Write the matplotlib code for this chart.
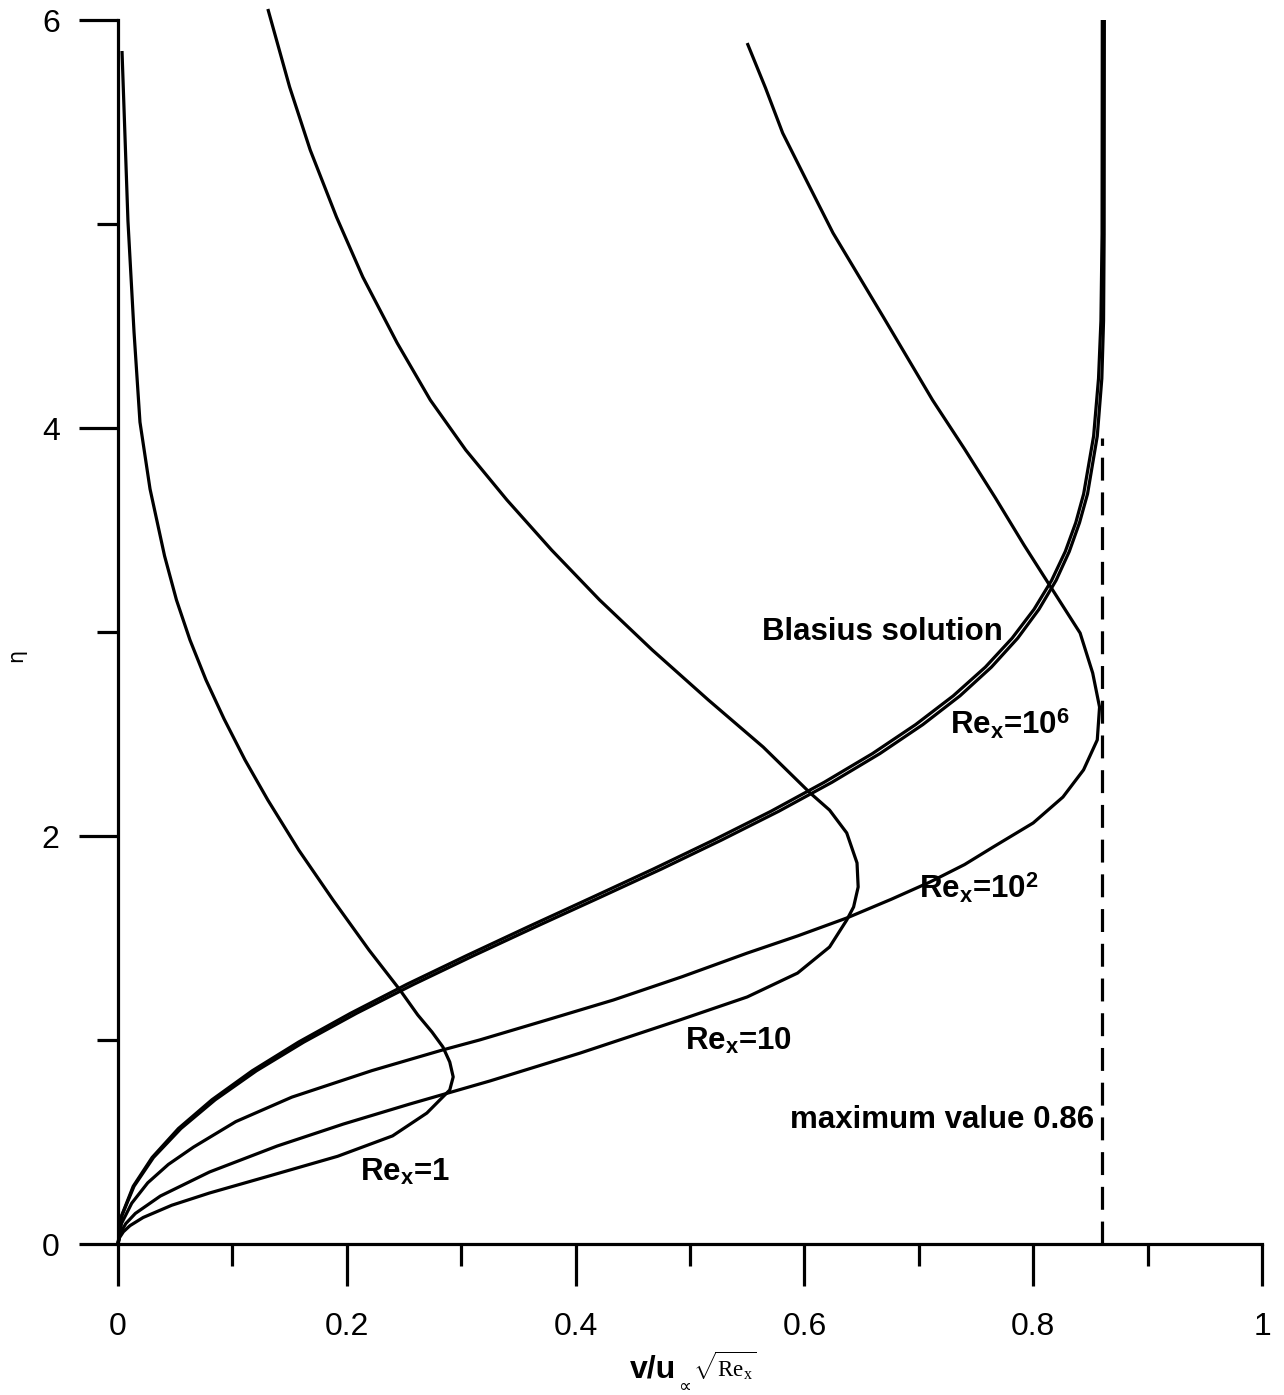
import matplotlib.pyplot as plt

plt.rcParams['font.family'] = ['Liberation Sans', 'DejaVu Sans']
plt.rcParams['mathtext.fontset'] = 'custom'
plt.rcParams['mathtext.rm'] = 'Liberation Serif'
plt.rcParams['mathtext.it'] = 'Liberation Serif:italic'
plt.rcParams['mathtext.bf'] = 'Liberation Sans:bold'
plt.rcParams['mathtext.sf'] = 'Liberation Sans'
plt.rcParams['lines.scale_dashes'] = False

# Blasius solution (eta, v/u*sqrt(Re_x))
blasius_eta = [0, 0.141, 0.283, 0.424, 0.566, 0.707, 0.849, 0.990, 1.131, 1.273, 1.414,
               1.556, 1.697, 1.838, 1.980, 2.121, 2.263, 2.404, 2.546, 2.687, 2.828,
               2.970, 3.111, 3.253, 3.394, 3.536, 3.677, 3.960, 4.243, 4.525, 4.95, 6.0]
blasius_v = [0, 0.0033, 0.0133, 0.0298, 0.0528, 0.0821, 0.1173, 0.1579, 0.2033, 0.2525, 0.3048,
             0.3589, 0.4136, 0.4679, 0.5206, 0.5707, 0.6172, 0.6595, 0.6972, 0.7301, 0.7582,
             0.7816, 0.8007, 0.8161, 0.8280, 0.8372, 0.8441, 0.8528, 0.8571, 0.8592, 0.8602, 0.8604]

# Re_x = 10^6
re6_eta = blasius_eta
re6_v = [0, 0.0035, 0.0140, 0.0310, 0.0550, 0.0850, 0.1210, 0.1625, 0.2085, 0.2585, 0.3110,
         0.3655, 0.4205, 0.4750, 0.5275, 0.5775, 0.6240, 0.6660, 0.7035, 0.7360, 0.7635,
         0.7865, 0.8050, 0.8200, 0.8315, 0.8405, 0.8475, 0.8560, 0.8600, 0.8615, 0.8620, 0.8622]

# Re_x = 10^2
re2_eta = [0, 0.10, 0.20, 0.30, 0.39, 0.475, 0.60, 0.72, 0.85, 0.95, 1.0, 1.10, 1.196, 1.31,
           1.426, 1.51, 1.598, 1.69, 1.775, 1.86, 1.946, 2.064, 2.191, 2.324, 2.471, 2.632,
           2.799, 2.995, 3.206, 3.426, 3.657, 3.897, 4.137, 4.544, 4.75, 4.956, 5.2, 5.446,
           5.667, 5.887]
re2_v = [0, 0.003, 0.012, 0.026, 0.044, 0.066, 0.103, 0.152, 0.222, 0.283, 0.316, 0.376, 0.433, 0.493,
         0.550, 0.594, 0.637, 0.676, 0.710, 0.740, 0.765, 0.800, 0.826, 0.844, 0.856, 0.858,
         0.852, 0.841, 0.817, 0.792, 0.767, 0.740, 0.712, 0.669, 0.647, 0.625, 0.603, 0.581,
         0.566, 0.550]

# Re_x = 10
re10_eta = [0, 0.05, 0.10, 0.15, 0.235, 0.353, 0.48, 0.588, 0.686, 0.799, 0.936, 1.098, 1.211,
            1.328, 1.456, 1.588, 1.652, 1.75, 1.868, 2.015, 2.127, 2.211, 2.436, 2.667, 2.912,
            3.157, 3.402, 3.647, 3.892, 4.137, 4.417, 4.74, 5.034, 5.363, 5.672, 6.054]
re10_v = [0, 0.0017, 0.0068, 0.0152, 0.037, 0.080, 0.139, 0.197, 0.255, 0.325, 0.404, 0.491, 0.550,
          0.594, 0.622, 0.637, 0.643, 0.647, 0.646, 0.637, 0.622, 0.605, 0.564, 0.516, 0.467,
          0.421, 0.379, 0.340, 0.304, 0.273, 0.244, 0.214, 0.191, 0.168, 0.150, 0.131]

# Re_x = 1
re1_eta = [0, 0.03, 0.06, 0.09, 0.13, 0.19, 0.25, 0.33, 0.43, 0.53, 0.642, 0.755, 0.819, 0.892,
           0.966, 1.039, 1.123, 1.245, 1.441, 1.686, 1.931, 2.176, 2.373, 2.574, 2.765, 2.961,
           3.157, 3.373, 3.701, 4.029, 4.471, 5.015, 5.848]
re1_v = [0, 0.0012, 0.0047, 0.0105, 0.022, 0.047, 0.080, 0.130, 0.192, 0.240, 0.270, 0.290, 0.293, 0.290,
         0.284, 0.2745, 0.262, 0.2465, 0.2194, 0.188, 0.158, 0.131, 0.111, 0.0927, 0.0769, 0.0629,
         0.0511, 0.0407, 0.0280, 0.0192, 0.0140, 0.0087, 0.0035]

v_max = 0.86
v_max_top = 3.95

fig = plt.figure(figsize=(12.84, 13.95), dpi=100)
ax = fig.add_axes([118 / 1284, 151 / 1395, 1144 / 1284, 1224 / 1395])

lw = 2.3
for v, eta in [(blasius_v, blasius_eta), (re6_v, re6_eta), (re2_v, re2_eta),
               (re10_v, re10_eta), (re1_v, re1_eta)]:
    ax.plot(v, eta, color='black', lw=lw, clip_on=False, solid_capstyle='butt',
            solid_joinstyle='round')

ax.plot([v_max, v_max], [0, v_max_top], color='black', lw=lw, dashes=(16.5, 8.5), clip_on=False)

ax.set_xlim(0, 1)
ax.set_ylim(0, 6)
ax.spines['top'].set_visible(False)
ax.spines['right'].set_visible(False)
for s in ['left', 'bottom']:
    ax.spines[s].set_linewidth(2.3)

ax.set_xticks([0, 0.2, 0.4, 0.6, 0.8, 1.0])
ax.set_xticklabels(['0', '0.2', '0.4', '0.6', '0.8', '1'])
ax.set_xticks([0.1, 0.3, 0.5, 0.7, 0.9], minor=True)
ax.set_yticks([0, 2, 4, 6])
ax.set_yticklabels(['0', '2', '4', '6'])
ax.set_yticks([1, 3, 5], minor=True)

ax.tick_params(axis='x', which='major', direction='out', length=30, width=2.3, pad=19, labelsize=23)
ax.tick_params(axis='x', which='minor', direction='out', length=16, width=2.3)
ax.tick_params(axis='y', which='major', direction='out', length=28, width=2.3, pad=14, labelsize=23)
ax.tick_params(axis='y', which='minor', direction='out', length=15, width=2.3)

# x label pieces: v/u, subscript, sqrt(Re_x)
fig.text(630 / 1284, 1 - 1377 / 1395, 'v/u', fontsize=23, fontweight='bold', va='baseline')
fig.text(678 / 1284, 1 - 1392 / 1395, '∝', fontsize=13, va='baseline', family=['DejaVu Sans'])
fig.text(693 / 1284, 1 - 1377 / 1395, r'$\sqrt{\mathrm{Re}_{\mathrm{x}}}$', fontsize=16.5, va='baseline')

ax.set_ylabel('η', fontsize=15, family='DejaVu Sans')
ax.yaxis.set_label_coords(-0.080, 0.481)

tk = dict(fontsize=22.5, fontweight='bold', va='center', ha='left')
ax.text(0.563, 3.0, 'Blasius solution', **tk)
ax.text(0.727, 2.55, r'Re$_{\mathbf{x}}$=10$^{\mathbf{6}}$', **tk)
ax.text(0.70, 1.745, r'Re$_{\mathbf{x}}$=10$^{\mathbf{2}}$', **tk)
ax.text(0.496, 0.995, r'Re$_{\mathbf{x}}$=10', **tk)
ax.text(0.2115, 0.35, r'Re$_{\mathbf{x}}$=1', **tk)
ax.text(0.587, 0.61, 'maximum value 0.86', **tk)

fig.savefig('out.png', dpi=100)
